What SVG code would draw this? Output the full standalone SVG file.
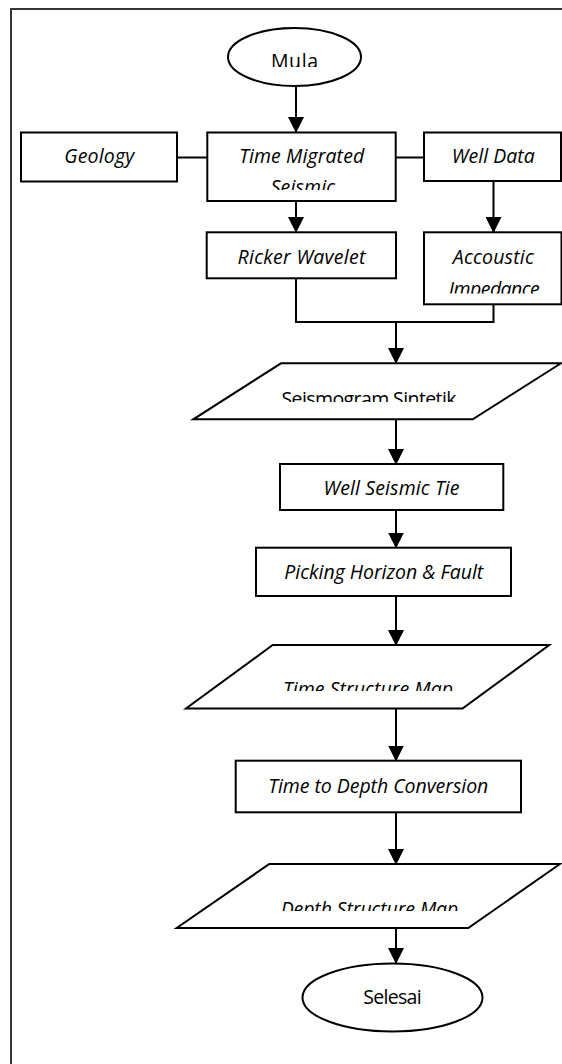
<svg xmlns="http://www.w3.org/2000/svg" width="562" height="1064" viewBox="0 0 562 1064">
<style>
.shape{fill:#fff;stroke:#000;stroke-width:2}
.conn{fill:none;stroke:#000;stroke-width:2}
.t{font-family:"Open Sans","Noto Sans",sans-serif;font-size:19.5px;fill:#000;text-anchor:middle}
.i{font-style:italic}
</style>
<defs>
<marker id="ah" markerUnits="userSpaceOnUse" markerWidth="16" markerHeight="16" refX="15" refY="8" orient="auto">
<path d="M0,0 L16,8 L0,16 Z" fill="#000"/>
</marker>
<clipPath id="cMula"><rect x="220" y="30" width="150" height="37"/></clipPath>
<clipPath id="cTMS"><rect x="208" y="133" width="187" height="57"/></clipPath>
<clipPath id="cAI"><rect x="425" y="233" width="136" height="60.5"/></clipPath>
<clipPath id="cSS"><rect x="200" y="365" width="360" height="37"/></clipPath>
<clipPath id="cTSM"><rect x="190" y="646" width="360" height="45"/></clipPath>
<clipPath id="cDSM"><rect x="180" y="865" width="380" height="46"/></clipPath>
</defs>
<rect x="11" y="9" width="600" height="1100" fill="#fff" stroke="#222" stroke-width="1.8"/>
<g id="connectors">
<path class="conn" d="M296,86 V132" marker-end="url(#ah)"/>
<path class="conn" d="M177,157.5 H207"/>
<path class="conn" d="M396,157.5 H424"/>
<path class="conn" d="M296,201 V232" marker-end="url(#ah)"/>
<path class="conn" d="M493.5,181 V232" marker-end="url(#ah)"/>
<path class="conn" d="M296,278 V322 H493.5 V304"/>
<path class="conn" d="M396,322 V363" marker-end="url(#ah)"/>
<path class="conn" d="M396,419 V464" marker-end="url(#ah)"/>
<path class="conn" d="M396,510 V547.5" marker-end="url(#ah)"/>
<path class="conn" d="M396,596 V645" marker-end="url(#ah)"/>
<path class="conn" d="M396,708.5 V760.5" marker-end="url(#ah)"/>
<path class="conn" d="M396,812 V864" marker-end="url(#ah)"/>
<path class="conn" d="M396,928 V963" marker-end="url(#ah)"/>
</g>
<g id="mula">
<ellipse class="shape" cx="294.5" cy="57" rx="66.5" ry="29"/>
<text class="t" x="294.5" y="68" textLength="47" clip-path="url(#cMula)">Mula</text>
</g>
<g id="geology">
<rect class="shape" x="21" y="132.5" width="156" height="49"/>
<text class="t i" x="99.2" y="163" textLength="70">Geology</text>
</g>
<g id="time-migrated-seismic">
<rect class="shape" x="207.3" y="132.5" width="188.4" height="68.5"/>
<g clip-path="url(#cTMS)">
<text class="t i" x="301.7" y="163" textLength="125">Time Migrated</text>
<text class="t i" x="302.9" y="194" textLength="64.5">Seismic</text>
</g>
</g>
<g id="well-data">
<rect class="shape" x="424" y="132.5" width="137" height="48.5"/>
<text class="t i" x="493.3" y="163" textLength="83">Well Data</text>
</g>
<g id="ricker-wavelet">
<rect class="shape" x="206.7" y="232.3" width="189.3" height="46"/>
<text class="t i" x="301.5" y="264" textLength="128">Ricker Wavelet</text>
</g>
<g id="accoustic-impedance">
<rect class="shape" x="424" y="232.3" width="137.5" height="72"/>
<g clip-path="url(#cAI)">
<text class="t i" x="493.3" y="264" textLength="81">Accoustic</text>
<text class="t i" x="494.3" y="295.5" textLength="91">Impedance</text>
</g>
</g>
<g id="seismogram-sintetik">
<polygon class="shape" points="281,363.3 561,363.3 472.7,419.3 193.3,419.3"/>
<text class="t" x="369" y="405.5" textLength="175" clip-path="url(#cSS)">Seismogram Sintetik</text>
</g>
<g id="well-seismic-tie">
<rect class="shape" x="280" y="464" width="223.3" height="46"/>
<text class="t i" x="391.5" y="495" textLength="136">Well Seismic Tie</text>
</g>
<g id="picking-horizon-fault">
<rect class="shape" x="256" y="547.7" width="255" height="48.3"/>
<text class="t i" x="383.8" y="579" textLength="199">Picking Horizon &amp; Fault</text>
</g>
<g id="time-structure-map">
<polygon class="shape" points="272.7,645 549.3,645 462.5,708.5 186,708.5"/>
<text class="t i" x="368" y="695.5" textLength="170" clip-path="url(#cTSM)">Time Structure Map</text>
</g>
<g id="time-to-depth-conversion">
<rect class="shape" x="235.7" y="760.7" width="285.3" height="51.6"/>
<text class="t i" x="378.3" y="792.5" textLength="220">Time to Depth Conversion</text>
</g>
<g id="depth-structure-map">
<polygon class="shape" points="269.3,864 560,864 468.3,928 176.7,928"/>
<text class="t i" x="369.5" y="915.5" textLength="177.6" clip-path="url(#cDSM)">Depth Structure Map</text>
</g>
<g id="selesai">
<ellipse class="shape" cx="392.5" cy="997.5" rx="90" ry="34"/>
<text class="t" x="392.5" y="1004" textLength="58.3">Selesai</text>
</g>
</svg>
